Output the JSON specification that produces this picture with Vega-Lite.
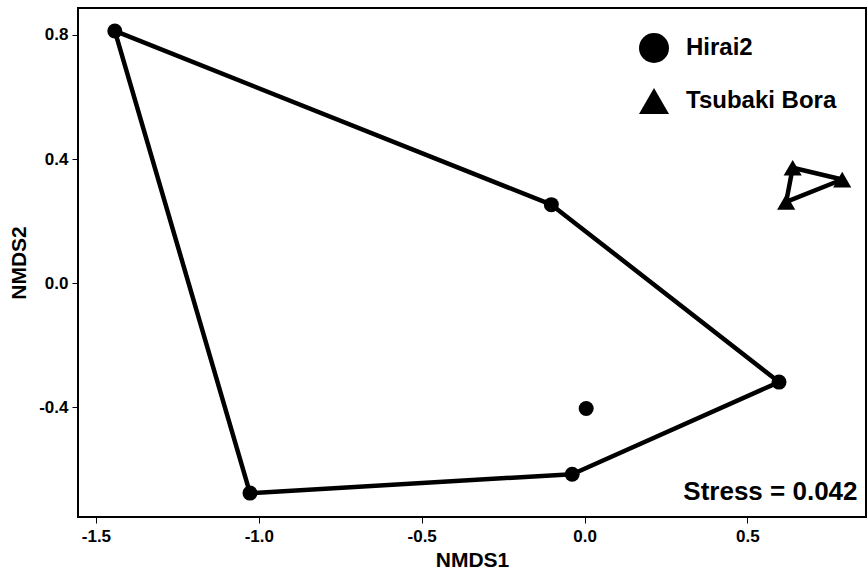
{
  "$schema": "https://vega.github.io/schema/vega-lite/v6.json",
  "width": 788,
  "height": 509,
  "autosize": {"type": "none"},
  "padding": {"left": 78, "top": 8, "right": 1, "bottom": 56},
  "background": "white",
  "config": {
    "font": "Liberation Sans",
    "view": {"stroke": "black", "strokeWidth": 2},
    "axis": {
      "grid": false,
      "domain": false,
      "tickColor": "black",
      "tickSize": 6,
      "tickWidth": 1,
      "labelColor": "black",
      "labelFontSize": 17,
      "labelFontWeight": "bold",
      "titleColor": "black",
      "titleFontSize": 21,
      "titleFontWeight": "bold"
    }
  },
  "datasets": {
    "pts": [
      {"NMDS1": -1.442, "NMDS2": 0.813, "site": "Hirai2"},
      {"NMDS1": -0.102, "NMDS2": 0.253, "site": "Hirai2"},
      {"NMDS1": 0.597, "NMDS2": -0.319, "site": "Hirai2"},
      {"NMDS1": 0.005, "NMDS2": -0.404, "site": "Hirai2"},
      {"NMDS1": -0.038, "NMDS2": -0.616, "site": "Hirai2"},
      {"NMDS1": -1.027, "NMDS2": -0.677, "site": "Hirai2"},
      {"NMDS1": 0.639, "NMDS2": 0.372, "site": "Tsubaki Bora"},
      {"NMDS1": 0.791, "NMDS2": 0.334, "site": "Tsubaki Bora"},
      {"NMDS1": 0.619, "NMDS2": 0.262, "site": "Tsubaki Bora"}
    ],
    "hull": [
      {"NMDS1": -1.442, "NMDS2": 0.813, "site": "Hirai2", "ord": 1},
      {"NMDS1": -0.102, "NMDS2": 0.253, "site": "Hirai2", "ord": 2},
      {"NMDS1": 0.597, "NMDS2": -0.319, "site": "Hirai2", "ord": 3},
      {"NMDS1": -0.038, "NMDS2": -0.616, "site": "Hirai2", "ord": 4},
      {"NMDS1": -1.027, "NMDS2": -0.677, "site": "Hirai2", "ord": 5},
      {"NMDS1": -1.442, "NMDS2": 0.813, "site": "Hirai2", "ord": 6},
      {"NMDS1": 0.639, "NMDS2": 0.372, "site": "Tsubaki Bora", "ord": 1},
      {"NMDS1": 0.791, "NMDS2": 0.334, "site": "Tsubaki Bora", "ord": 2},
      {"NMDS1": 0.619, "NMDS2": 0.262, "site": "Tsubaki Bora", "ord": 3},
      {"NMDS1": 0.639, "NMDS2": 0.372, "site": "Tsubaki Bora", "ord": 4}
    ],
    "note": [
      {"NMDS1": 0.838, "NMDS2": -0.675, "label": "Stress = 0.042"}
    ]
  },
  "layer": [
    {
      "data": {"name": "hull"},
      "mark": {"type": "line", "color": "black", "strokeWidth": 4.5, "strokeJoin": "round"},
      "encoding": {
        "x": {"field": "NMDS1", "type": "quantitative", "scale": {"domain": [-1.555, 0.864], "nice": false, "zero": false}},
        "y": {"field": "NMDS2", "type": "quantitative", "scale": {"domain": [-0.754, 0.887], "nice": false, "zero": false}},
        "detail": {"field": "site"},
        "order": {"field": "ord", "type": "quantitative"}
      }
    },
    {
      "data": {"name": "pts"},
      "mark": {"type": "point", "filled": true, "color": "black", "opacity": 1},
      "encoding": {
        "x": {"field": "NMDS1", "type": "quantitative", "title": "NMDS1",
              "axis": {"values": [-1.5, -1.0, -0.5, 0.0, 0.5], "format": ".1f", "labelExpr": "replace(datum.label, '\u2212', '-')", "labelPadding": 5, "titlePadding": 5}},
        "y": {"field": "NMDS2", "type": "quantitative", "title": "NMDS2",
              "axis": {"values": [-0.4, 0.0, 0.4, 0.8], "format": ".1f", "labelExpr": "replace(datum.label, '\u2212', '-')", "labelPadding": 4, "titlePadding": 9}},
        "size": {
          "condition": {"test": "datum.site === 'Hirai2'", "value": 225},
          "value": 330
        },
        "shape": {
          "field": "site", "type": "nominal",
          "scale": {"domain": ["Hirai2", "Tsubaki Bora"], "range": ["circle", "triangle-up"]},
          "legend": {
            "title": null,
            "orient": "none",
            "legendX": 561,
            "legendY": 25,
            "padding": 0,
            "symbolSize": 900,
            "symbolFillColor": "black",
            "symbolStrokeColor": "black",
            "symbolStrokeWidth": 0,
            "symbolOpacity": 1,
            "labelFontSize": 24,
            "labelFontWeight": "bold",
            "labelColor": "black",
            "labelOffset": 17,
            "rowPadding": 23
          }
        }
      }
    },
    {
      "data": {"name": "note"},
      "mark": {"type": "text", "align": "right", "baseline": "middle", "fontSize": 26, "fontWeight": "bold", "color": "black"},
      "encoding": {
        "x": {"field": "NMDS1", "type": "quantitative"},
        "y": {"field": "NMDS2", "type": "quantitative"},
        "text": {"field": "label"}
      }
    }
  ]
}
